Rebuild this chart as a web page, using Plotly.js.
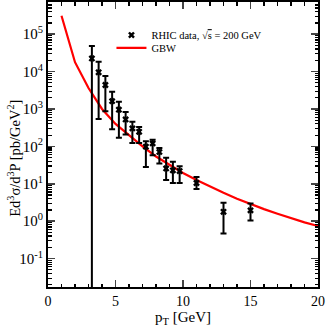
<!DOCTYPE html>
<html>
<head>
<meta charset="utf-8">
<script src="https://cdn.plot.ly/plotly-3.0.1.min.js"></script>
<style>
  body { margin: 0; padding: 0; background: #ffffff; }
  #chart { width: 327px; height: 327px; }
</style>
</head>
<body>
<div id="chart"></div>
<script>
// RHIC data points (pT in GeV, cross section in pb/GeV^2)
const dataPT = [3.25, 3.75, 4.25, 4.75, 5.25, 5.75, 6.25, 6.75, 7.25, 7.75, 8.25, 8.75, 9.25, 9.75, 11, 13, 15];
const dataY = [22400, 9550, 4370, 1620, 955, 525, 302, 245, 98, 120, 71, 25.7, 22.9, 21.9, 10.5, 1.78, 1.95];
const dataHigh = [47900, 18200, 7590, 2880, 1550, 832, 457, 331, 138, 151, 91, 50, 38.9, 29.5, 15.1, 3.09, 2.95];
const dataLow = [0, 537, 871, 288, 170, 209, 123, 123, 28.2, 57.5, 34.7, 12.6, 10.5, 10.5, 7.2, 0.47, 1.05];

// GBW curve
const gbwPT = [1, 2, 3, 4, 5, 6, 7, 8, 9, 10, 11, 12, 13, 14, 15, 16, 17, 18, 19, 20];
const gbwY = [310000, 17800, 3630, 1000, 398, 200, 100, 53.7, 32.4, 19.5, 12.6, 8.3, 5.75, 4.0, 2.88, 2.1, 1.58, 1.2, 0.93, 0.74];

// y tick labels
const yTickVals = [0.1, 1, 10, 100, 1000, 10000, 100000];
const yTickText = ['10<sup>-1</sup>', '10<sup>0</sup>', '10<sup>1</sup>', '10<sup>2</sup>', '10<sup>3</sup>', '10<sup>4</sup>', '10<sup>5</sup>'];

const serif = 'Liberation Serif';

function drawChart(selector) {
    const errPlus = dataY.map((v, i) => dataHigh[i] - v);
    const errMinus = dataY.map((v, i) => v - dataLow[i]);

    const curve = {
        x: gbwPT,
        y: gbwY,
        type: 'scatter',
        mode: 'lines',
        name: 'GBW',
        line: {color: '#ff0000', width: 2.2},
        legend: 'legend2'
    };

    const points = {
        x: dataPT,
        y: dataY,
        type: 'scatter',
        mode: 'markers',
        name: 'RHIC data, √<span style="text-decoration:overline">s</span> = 200 GeV',
        marker: {symbol: 'x', size: 6, color: '#000000'},
        error_y: {
            type: 'data',
            symmetric: false,
            array: errPlus,
            arrayminus: errMinus,
            color: '#000000',
            thickness: 2,
            width: 3
        },
        legend: 'legend'
    };

    // two legends so the rows sit closer than plotly's default spacing
    const legendStyle = {
        x: 0.235,
        xanchor: 'left',
        yanchor: 'top',
        bgcolor: 'rgba(0,0,0,0)',
        font: {family: serif, size: 10.5}
    };

    const layout = {
        width: 327,
        height: 327,
        margin: {l: 48, r: 8.5, t: 2, b: 40.3},
        paper_bgcolor: '#ffffff',
        plot_bgcolor: '#ffffff',
        font: {family: serif, color: '#000000', size: 14},
        showlegend: true,
        legend: Object.assign({y: 0.935}, legendStyle),
        legend2: Object.assign({y: 0.89}, legendStyle),
        xaxis: {
            range: [0, 20],
            dtick: 5,
            ticks: 'inside',
            ticklen: 7,
            tickwidth: 1.5,
            showline: true,
            linewidth: 2,
            linecolor: '#000000',
            mirror: 'allticks',
            showgrid: false,
            zeroline: false,
            minor: {dtick: 1, ticks: 'inside', ticklen: 3.5, tickwidth: 1.2, tickcolor: '#000000'},
            tickfont: {family: serif, size: 14}
        },
        yaxis: {
            type: 'log',
            range: [-1.76, 5.86],
            tickmode: 'array',
            tickvals: yTickVals,
            ticktext: yTickText,
            ticks: 'inside',
            ticklen: 7,
            tickwidth: 1.5,
            showline: true,
            linewidth: 2,
            linecolor: '#000000',
            mirror: 'allticks',
            showgrid: false,
            zeroline: false,
            minor: {dtick: 'D1', ticks: 'inside', ticklen: 3.5, tickwidth: 1.2, tickcolor: '#000000'},
            tickfont: {family: serif, size: 15}
        },
        annotations: [{
            text: 'Ed<sup>3</sup>σ/d<sup>3</sup>P [pb/GeV<sup>2</sup>]',
            textangle: -90,
            xref: 'paper',
            yref: 'paper',
            x: 0,
            y: 0.45,
            xshift: -34,
            xanchor: 'center',
            yanchor: 'middle',
            showarrow: false,
            font: {family: serif, size: 14.5}
        }, {
            text: 'p<sub>T</sub> [GeV]',
            xref: 'paper',
            yref: 'paper',
            x: 0.5,
            y: -0.11,
            xanchor: 'center',
            yanchor: 'middle',
            showarrow: false,
            borderpad: 0,
            font: {family: serif, size: 15}
        }]
    };

    Plotly.newPlot(selector, [curve, points], layout, {displayModeBar: false, staticPlot: true});
};

drawChart('chart');
</script>
</body>
</html>
